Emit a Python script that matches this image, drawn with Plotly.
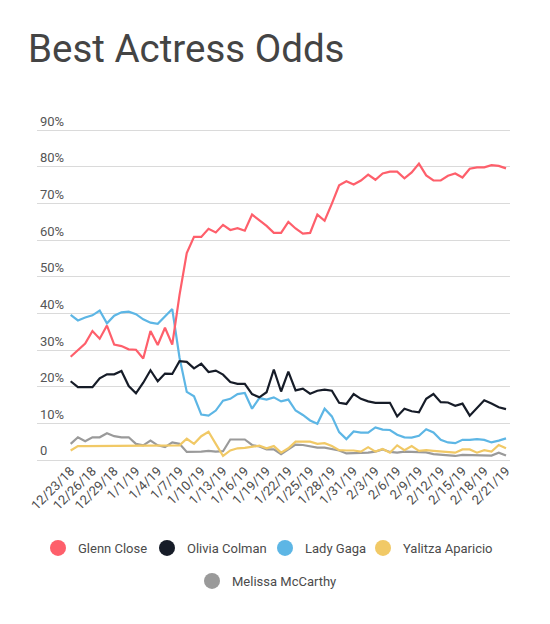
import pandas as pd
import plotly.graph_objects as go

# ---- data (daily odds, %) ----
dates = pd.date_range("2018-12-23", periods=61, freq="D")

glenn_close = [28.2, 30.0, 31.8, 35.2, 33.1, 36.7, 31.5, 31.1, 30.2, 30.1, 27.7, 35.2, 31.4, 36.1, 31.5,
               45.0, 56.5, 60.9, 60.9, 63.1, 62.1, 64.2, 62.8, 63.3, 62.6, 67.0, 65.4, 63.9, 62.0, 62.0,
               65.0, 63.2, 61.8, 62.0, 67.0, 65.3, 70.0, 75.0, 76.1, 75.2, 76.3, 77.9, 76.5, 78.2, 78.7,
               78.7, 76.9, 78.5, 80.9, 77.7, 76.3, 76.3, 77.6, 78.2, 77.1, 79.5, 79.9, 79.9, 80.5, 80.3, 79.6]

olivia_colman = [21.5, 19.9, 19.9, 19.9, 22.3, 23.4, 23.4, 24.3, 20.2, 18.2, 21.1, 24.5, 21.5, 23.6, 23.5,
                 27.0, 26.8, 25.0, 26.3, 24.0, 24.4, 23.3, 21.3, 20.8, 20.8, 18.0, 17.1, 18.5, 24.7, 18.7,
                 24.1, 19.0, 19.5, 18.1, 18.9, 19.2, 18.9, 15.6, 15.3, 18.0, 16.7, 16.0, 15.6, 15.6, 15.6,
                 11.9, 14.0, 13.3, 13.0, 16.7, 18.0, 15.8, 15.7, 14.8, 15.4, 12.1, 14.2, 16.3, 15.4, 14.4, 13.9]

lady_gaga = [39.6, 38.1, 38.9, 39.5, 40.8, 37.3, 39.4, 40.3, 40.5, 39.8, 38.4, 37.5, 37.2, 39.2, 41.2,
             28.0, 18.6, 17.4, 12.4, 12.1, 13.5, 16.2, 16.7, 18.0, 18.3, 14.0, 16.9, 16.5, 17.1, 16.0,
             16.5, 13.5, 12.3, 10.8, 9.9, 14.0, 11.9, 7.6, 5.7, 7.8, 7.5, 7.5, 8.9, 8.3, 8.2,
             6.9, 6.2, 6.1, 6.6, 8.4, 7.5, 5.5, 4.8, 4.6, 5.5, 5.5, 5.7, 5.5, 4.8, 5.3, 5.9]

yalitza_aparicio = [2.6, 3.8, 3.8, 3.8, 3.8, 3.8, 3.8, 3.8, 3.8, 3.8, 3.8, 4.0, 3.8, 3.8, 3.8,
                    4.0, 5.8, 4.4, 6.5, 7.7, 4.4, 1.1, 2.6, 3.2, 3.3, 3.5, 3.9, 3.2, 3.8, 2.0,
                    3.2, 5.0, 5.0, 5.0, 4.4, 4.6, 3.8, 2.7, 2.6, 2.6, 2.3, 3.5, 2.3, 3.0, 2.0,
                    4.0, 2.7, 3.8, 2.5, 2.7, 2.5, 2.3, 2.1, 2.0, 2.9, 2.9, 2.0, 2.7, 2.3, 4.1, 3.2]

melissa_mccarthy = [4.4, 6.2, 5.1, 6.2, 6.2, 7.3, 6.5, 6.2, 6.2, 4.4, 4.0, 5.3, 4.0, 3.5, 4.8,
                    4.4, 2.2, 2.2, 2.3, 2.5, 2.3, 2.4, 5.6, 5.6, 5.6, 4.1, 3.7, 2.9, 2.9, 1.6,
                    2.9, 4.2, 4.1, 3.7, 3.4, 3.4, 2.9, 2.6, 1.8, 1.8, 2.0, 2.0, 2.3, 2.9, 2.2,
                    2.0, 2.3, 2.2, 2.0, 2.1, 1.6, 1.4, 1.4, 1.1, 1.4, 1.4, 1.4, 1.4, 1.2, 2.0, 1.2]

names = ["Glenn Close", "Olivia Colman", "Lady Gaga", "Yalitza Aparicio", "Melissa McCarthy"]
series = [glenn_close, olivia_colman, lady_gaga, yalitza_aparicio, melissa_mccarthy]
colors = ["#fe5f6b", "#161c28", "#5db6e5", "#f1c966", "#9a9a9a"]

tick_dates = list(dates[::3])
tick_labels = [f"{d.month}/{d.day}/{d.strftime('%y')}" for d in tick_dates]
y_ticks = [0, 10, 20, 30, 40, 50, 60, 70, 80, 90]
y_tick_labels = ["0"] + [f"{v}%" for v in y_ticks[1:]]

# ---- figure ----
fig = go.Figure()

# draw order: gray, yellow, blue, black, red on top
for idx in [4, 3, 2, 1, 0]:
    fig.add_trace(go.Scatter(
        x=dates, y=series[idx], mode="lines", name=names[idx],
        line=dict(color=colors[idx], width=2.2), showlegend=False,
    ))

# legend entries (circle markers), one legend per entry for exact placement
legend_ids = ["legend", "legend2", "legend3", "legend4", "legend5"]
for i, nm in enumerate(names):
    fig.add_trace(go.Scatter(
        x=[None], y=[None], mode="markers", name=nm,
        marker=dict(color=colors[i], size=16), legend=legend_ids[i], showlegend=True,
    ))

W, H = 550, 624
legend_pos = [(58, 548), (167, 548), (285, 548), (383, 548), (212, 581)]
legend_font = dict(family="Roboto", size=13, color="#4b4b4b")
for lid, (cx, cy) in zip(legend_ids, legend_pos):
    fig.layout[lid] = dict(
        xref="container", yref="container",
        x=(cx - 20) / W, y=1 - cy / H, xanchor="left", yanchor="middle",
        orientation="h", font=legend_font, itemsizing="trace",
        bgcolor="rgba(0,0,0,0)", borderwidth=0,
    )

fig.update_layout(
    width=W, height=H,
    margin=dict(l=37, r=40, t=111.6, b=164),
    paper_bgcolor="white", plot_bgcolor="white",
    font=dict(family="Roboto", color="#4b4b4b"),
    title=dict(
        text="Best Actress Odds", font=dict(family="Roboto", size=38.5, color="#444444"),
        xref="container", yref="container", x=28 / W, xanchor="left",
        y=1 - 49 / H, yanchor="middle",
    ),
    xaxis=dict(
        type="date",
        range=["2018-12-18 08:38", "2019-02-21 13:12"],
        tickvals=tick_dates, ticktext=tick_labels, tickangle=-45,
        tickfont=dict(family="Roboto", size=13, color="#4b4b4b"),
        showgrid=False, zeroline=False, showline=False, ticks="",
    ),
    yaxis=dict(
        range=[0, 95],
        tickvals=y_ticks, ticktext=y_tick_labels,
        ticklabelposition="inside top",
        tickfont=dict(family="Roboto", size=13, color="#555555"),
        showgrid=True, gridcolor="#dadada", gridwidth=1,
        zeroline=True, zerolinecolor="#dadada", zerolinewidth=1,
        showline=False, ticks="",
    ),
    hovermode=False,
)

fig.write_html("out.html", config={"displayModeBar": False},
               post_script="document.body.style.margin='0';")
